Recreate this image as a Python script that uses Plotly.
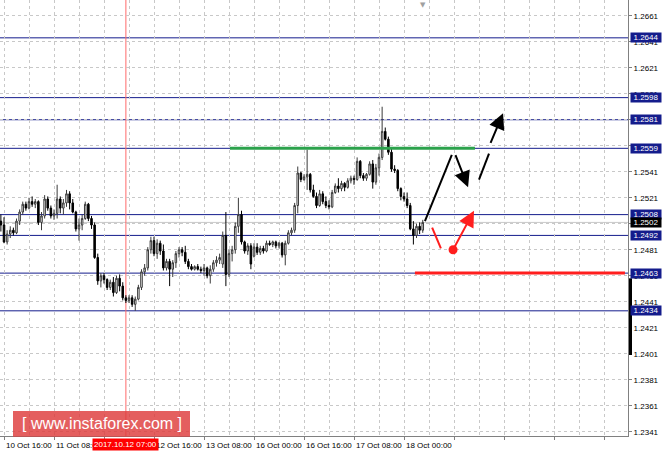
import plotly.graph_objects as go

# ---------------- data ----------------
hours = list(range(-1, 135))  # H1 bar index, 0 = 10 Oct 16:00
opens = [1.2503,1.2500,1.2487,1.2493,1.2496,1.2494,1.2503,1.2510,1.2516,1.2513,1.2518,1.2516,1.2518,1.2502,1.2507,1.2520,
         1.2513,1.2507,1.2509,1.2520,1.2513,1.2517,1.2524,1.2517,1.2510,1.2497,1.2500,1.2505,1.2516,1.2505,1.2500,1.2475,
         1.2457,1.2461,1.2458,1.2452,1.2456,1.2448,1.2459,1.2453,1.2444,1.2442,1.2444,1.2439,1.2443,1.2452,1.2464,1.2467,
         1.2481,1.2488,1.2478,1.2486,1.2480,1.2467,1.2472,1.2466,1.2471,1.2478,1.2481,1.2479,1.2472,1.2468,1.2466,1.2468,
         1.2466,1.2465,1.2467,1.2461,1.2466,1.2471,1.2473,1.2470,1.2492,1.2462,1.2478,1.2481,1.2499,1.2508,1.2487,1.2480,
         1.2484,1.2476,1.2483,1.2479,1.2482,1.2480,1.2486,1.2485,1.2487,1.2484,1.2486,1.2477,1.2486,1.2494,1.2496,1.2515,
         1.2540,1.2535,1.2537,1.2539,1.2527,1.2522,1.2515,1.2524,1.2518,1.2515,1.2514,1.2525,1.2530,1.2528,1.2532,1.2529,
         1.2534,1.2536,1.2535,1.2549,1.2538,1.2536,1.2539,1.2547,1.2533,1.2544,1.2552,1.2572,1.2566,1.2556,1.2543,1.2542,
         1.2528,1.2522,1.2520,1.2515,1.2497,1.2492,1.2499,1.2496]
highs = [1.2508,1.2506,1.2496,1.2499,1.2498,1.2505,1.2512,1.2518,1.2518,1.2521,1.2522,1.2520,1.2519,1.2510,1.2523,1.2522,
         1.2515,1.2512,1.2531,1.2522,1.2520,1.2527,1.2526,1.2520,1.2511,1.2505,1.2508,1.2518,1.2517,1.2507,1.2502,1.2478,
         1.2463,1.2463,1.2459,1.2458,1.2460,1.2461,1.2462,1.2456,1.2446,1.2446,1.2446,1.2445,1.2454,1.2466,1.2470,1.2483,
         1.2491,1.2491,1.2489,1.2488,1.2485,1.2474,1.2474,1.2473,1.2480,1.2483,1.2483,1.2484,1.2474,1.2470,1.2469,1.2470,
         1.2468,1.2470,1.2468,1.2469,1.2473,1.2476,1.2478,1.2495,1.2510,1.2481,1.2484,1.2502,1.2521,1.2511,1.2488,1.2486,
         1.2486,1.2486,1.2486,1.2484,1.2484,1.2488,1.2488,1.2488,1.2488,1.2487,1.2487,1.2488,1.2496,1.2498,1.2517,1.2545,
         1.2541,1.2539,1.2558,1.2540,1.2531,1.2525,1.2527,1.2526,1.2522,1.2519,1.2527,1.2532,1.2536,1.2534,1.2533,1.2536,
         1.2538,1.2538,1.2552,1.2550,1.2540,1.2540,1.2549,1.2550,1.2547,1.2555,1.2591,1.2575,1.2568,1.2559,1.2546,1.2543,
         1.2529,1.2525,1.2525,1.2517,1.2503,1.2501,1.2502,1.2504]
lows = [1.2495,1.2486,1.2485,1.2490,1.2492,1.2493,1.2500,1.2508,1.2511,1.2512,1.2514,1.2513,1.2500,1.2496,1.2505,1.2511,
        1.2505,1.2504,1.2505,1.2509,1.2508,1.2514,1.2512,1.2509,1.2495,1.2488,1.2496,1.2504,1.2503,1.2497,1.2474,1.2454,
        1.2452,1.2455,1.2450,1.2450,1.2445,1.2447,1.2449,1.2442,1.2440,1.2440,1.2437,1.2434,1.2442,1.2450,1.2461,1.2465,
        1.2478,1.2476,1.2474,1.2477,1.2465,1.2465,1.2453,1.2460,1.2467,1.2475,1.2476,1.2470,1.2466,1.2465,1.2465,1.2465,
        1.2463,1.2461,1.2459,1.2455,1.2464,1.2468,1.2470,1.2467,1.2453,1.2460,1.2472,1.2478,1.2494,1.2485,1.2478,1.2477,
        1.2466,1.2475,1.2477,1.2477,1.2478,1.2479,1.2484,1.2483,1.2482,1.2482,1.2475,1.2469,1.2485,1.2492,1.2494,1.2509,
        1.2533,1.2534,1.2527,1.2525,1.2521,1.2513,1.2514,1.2516,1.2513,1.2512,1.2513,1.2524,1.2525,1.2526,1.2526,1.2528,
        1.2532,1.2531,1.2534,1.2536,1.2534,1.2534,1.2538,1.2528,1.2531,1.2538,1.2550,1.2565,1.2554,1.2541,1.2540,1.2526,
        1.2519,1.2518,1.2513,1.2496,1.2485,1.2490,1.2493,1.2494]
closes = [1.2500,1.2487,1.2493,1.2496,1.2494,1.2503,1.2510,1.2516,1.2513,1.2518,1.2516,1.2518,1.2502,1.2507,1.2520,1.2513,
          1.2507,1.2509,1.2520,1.2513,1.2517,1.2524,1.2517,1.2510,1.2497,1.2500,1.2505,1.2516,1.2505,1.2500,1.2475,1.2457,
          1.2461,1.2458,1.2452,1.2456,1.2448,1.2459,1.2453,1.2444,1.2442,1.2444,1.2439,1.2443,1.2452,1.2464,1.2467,1.2481,
          1.2488,1.2478,1.2486,1.2480,1.2467,1.2472,1.2466,1.2471,1.2478,1.2481,1.2479,1.2472,1.2468,1.2466,1.2468,1.2466,
          1.2465,1.2467,1.2461,1.2466,1.2471,1.2473,1.2475,1.2492,1.2462,1.2478,1.2481,1.2499,1.2508,1.2487,1.2480,1.2484,
          1.2470,1.2483,1.2479,1.2482,1.2480,1.2486,1.2485,1.2487,1.2484,1.2486,1.2477,1.2486,1.2494,1.2496,1.2515,1.2540,
          1.2535,1.2537,1.2539,1.2527,1.2522,1.2515,1.2524,1.2518,1.2515,1.2514,1.2525,1.2530,1.2528,1.2532,1.2529,1.2534,
          1.2536,1.2535,1.2549,1.2538,1.2536,1.2539,1.2547,1.2533,1.2544,1.2552,1.2572,1.2566,1.2556,1.2543,1.2542,1.2528,
          1.2522,1.2520,1.2515,1.2497,1.2492,1.2499,1.2496,1.2502]

level_prices = [1.2644, 1.2598, 1.2581, 1.2559, 1.2508, 1.2492, 1.2463, 1.2434]
bid_price = 1.2502

tick_hours = [0, 16, 32, 48, 64, 80, 96, 112, 128]
tick_labels = ["10 Oct 16:00", "11 Oct 08:00", "12 Oct 00:00", "12 Oct 16:00", "13 Oct 08:00",
               "16 Oct 00:00", "16 Oct 16:00", "17 Oct 08:00", "18 Oct 00:00"]
crosshair_hour = 39
crosshair_label = "2017.10.12 07:00"
shift_marker_hour = 134

green_h = [72.3, 150.7]; green_p = [1.2559, 1.2559]
red_h = [131.5, 198.7]; red_p = [1.2463, 1.2463]

black_line_h = [134.7, 143.3]; black_line_p = [1.2503, 1.2554]
black_arrow1_h = [144.3, 148.5]; black_arrow1_p = [1.2555, 1.2529]
black_dash_h = [152.0, 155.2]; black_dash_p = [1.2535, 1.2555]
black_arrow2_h = [155.5, 159.7]; black_arrow2_p = [1.2562, 1.2586]
red_seg_h = [137.0, 139.8]; red_seg_p = [1.2498, 1.2482]
red_dot_h = [143.7]; red_dot_p = [1.2481]
red_arrow_h = [143.7, 150.4]; red_arrow_p = [1.2481, 1.2511]

side_bar_p = [1.2459, 1.2400]

# ---------------- figure ----------------
FONT = "Liberation Sans"
NAVY = "#141c8c"
fig = go.Figure()

fig.add_trace(go.Candlestick(
    x=hours, open=opens, high=highs, low=lows, close=closes,
    increasing=dict(line=dict(color="#3a3a3a", width=1), fillcolor="white"),
    decreasing=dict(line=dict(color="black", width=1), fillcolor="black"),
    showlegend=False, hoverinfo="skip"))

def seg(h, p, color, width, dash="solid"):
    fig.add_trace(go.Scatter(x=h, y=p, mode="lines", line=dict(color=color, width=width, dash=dash),
                             showlegend=False, hoverinfo="skip"))

seg(green_h, green_p, "#2ca24c", 3)
seg(red_h, red_p, "#ff1e1e", 3)
seg(black_line_h, black_line_p, "black", 2)
seg(black_dash_h, black_dash_p, "black", 2)
seg(red_seg_h, red_seg_p, "#ff1e1e", 2)
fig.add_trace(go.Scatter(x=red_dot_h, y=red_dot_p, mode="markers",
                         marker=dict(color="#ff1e1e", size=9), showlegend=False, hoverinfo="skip"))

shapes = []
for lp in level_prices:
    shapes.append(dict(type="line", xref="paper", x0=0, x1=1, yref="y", y0=lp, y1=lp,
                       line=dict(color=NAVY, width=1), layer="between"))
shapes.append(dict(type="line", xref="paper", x0=0, x1=1, yref="y", y0=bid_price, y1=bid_price,
                   line=dict(color="#c8c8c8", width=1), layer="between"))
shapes.append(dict(type="line", xref="x", x0=crosshair_hour, x1=crosshair_hour, yref="paper", y0=0, y1=1,
                   line=dict(color="#ff6a6a", width=1), layer="between"))
shapes.append(dict(type="line", xref="paper", x0=1.004, x1=1.004, yref="y",
                   y0=side_bar_p[0], y1=side_bar_p[1], line=dict(color="black", width=3)))
# watermark box
shapes.append(dict(type="rect", xref="paper", yref="paper", x0=13/628, x1=190/628, y0=-0.002, y1=25/436,
                   fillcolor="rgba(222,60,60,0.82)", line=dict(width=0)))

annotations = []
def arrow(h, p, color):
    annotations.append(dict(x=h[1], y=p[1], ax=h[0], ay=p[0], xref="x", yref="y", axref="x", ayref="y",
                            text="", showarrow=True, arrowhead=2, arrowsize=1.6, arrowwidth=2,
                            arrowcolor=color))
arrow(black_arrow1_h, black_arrow1_p, "black")
arrow(black_arrow2_h, black_arrow2_p, "black")
arrow(red_arrow_h, red_arrow_p, "#ff1e1e")

for lp in level_prices:
    annotations.append(dict(x=1, xref="paper", y=lp, yref="y", xanchor="left", xshift=2,
                            text=f"{lp:.4f}", showarrow=False, bgcolor=NAVY, width=30, height=9,
                            font=dict(family=FONT, size=8, color="white"), borderpad=0))
annotations.append(dict(x=1, xref="paper", y=bid_price, yref="y", xanchor="left", xshift=2,
                        text=f"{bid_price:.4f}", showarrow=False, bgcolor="black", width=30, height=9,
                        font=dict(family=FONT, size=8, color="white"), borderpad=0))

for th, tl in zip(tick_hours, tick_labels):
    annotations.append(dict(x=th, xref="x", y=0, yref="paper", yanchor="top", xanchor="left",
                            yshift=-3, xshift=0, text=tl, showarrow=False,
                            font=dict(family=FONT, size=8, color="black")))
annotations.append(dict(x=crosshair_hour, xref="x", y=0, yref="paper", yanchor="top", xanchor="center",
                        yshift=-2, text=crosshair_label, showarrow=False, bgcolor="#ff0000",
                        font=dict(family=FONT, size=8, color="white"), borderpad=1))
annotations.append(dict(x=(13 + 190) / 2 / 628, xref="paper", y=12.5 / 436, yref="paper",
                        xanchor="center", yanchor="middle",
                        text="[ www.instaforex.com ]", showarrow=False,
                        font=dict(family=FONT, size=16, color="white")))
annotations.append(dict(x=shift_marker_hour, xref="x", y=1, yref="paper", yanchor="top", xanchor="center",
                        yshift=1, text="▼", showarrow=False,
                        font=dict(family="DejaVu Sans", size=7, color="#a0a0a0")))

fig.update_layout(
    width=664, height=455,
    margin=dict(l=0, r=36, t=0, b=19),
    paper_bgcolor="white", plot_bgcolor="white",
    shapes=shapes, annotations=annotations,
    showlegend=False,
    xaxis=dict(range=[-1.28, 199.68], rangeslider=dict(visible=False),
               tickmode="linear", tick0=0, dtick=16, showticklabels=False,
               ticks="outside", ticklen=3, tickcolor="#808080",
               showgrid=True, gridcolor="#c8c8c8", griddash="dot", gridwidth=1,
               minor=dict(tickmode="linear", tick0=0, dtick=8, showgrid=True,
                          gridcolor="#c8c8c8", griddash="dot", ticks=""),
               showline=True, mirror=True, linecolor="#808080", linewidth=1, zeroline=False),
    yaxis=dict(range=[1.23377, 1.26731], side="right",
               tickmode="linear", tick0=1.2341, dtick=0.002, tickformat=".4f",
               ticks="outside", ticklen=3, tickcolor="#808080",
               tickfont=dict(family=FONT, size=8, color="black"),
               showgrid=True, gridcolor="#c8c8c8", griddash="dot", gridwidth=1,
               showline=True, linecolor="#808080", linewidth=1, zeroline=False),
)

fig.write_html("out.html", config={"displayModeBar": False},
               post_script="document.body.style.margin='0';")
